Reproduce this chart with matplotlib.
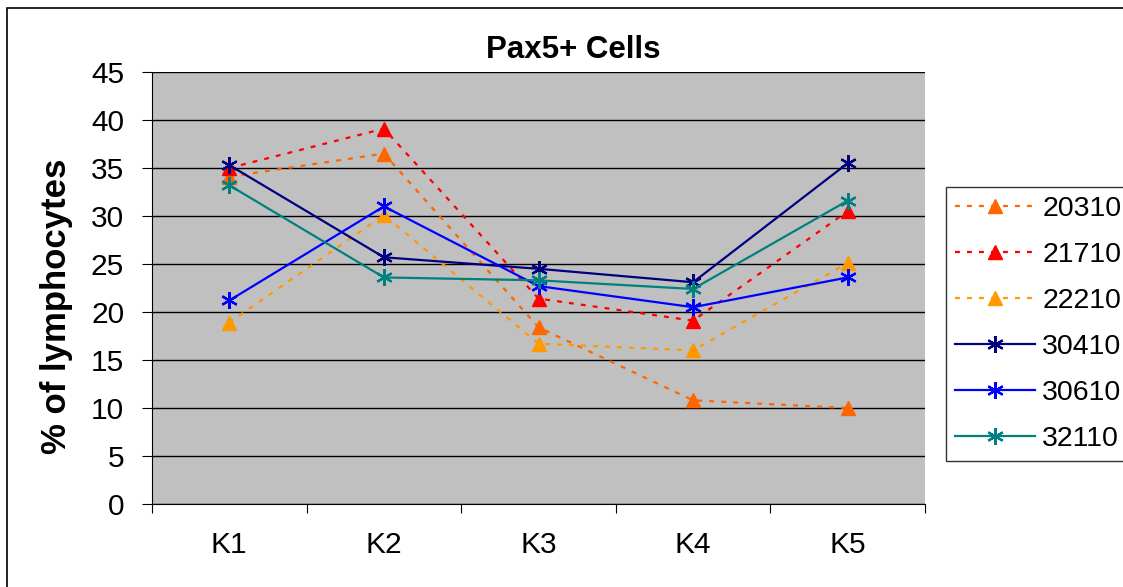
import matplotlib
matplotlib.use("Agg")
import matplotlib.pyplot as plt
from matplotlib.patches import Rectangle

plt.rcParams['font.family'] = ['Liberation Sans', 'DejaVu Sans']

categories = ["K1", "K2", "K3", "K4", "K5"]
s20310 = [34.1, 36.5, 18.4, 10.8, 10.0]
s21710 = [35.0, 39.1, 21.4, 19.1, 30.5]
s22210 = [18.9, 30.1, 16.7, 16.0, 25.1]
s30410 = [35.3, 25.7, 24.5, 23.1, 35.5]
s30610 = [21.2, 31.0, 22.7, 20.5, 23.6]
s32110 = [33.2, 23.6, 23.3, 22.4, 31.6]
yticks = [0, 5, 10, 15, 20, 25, 30, 35, 40, 45]

W, H = 1123, 587
fig = plt.figure(figsize=(W / 100, H / 100), dpi=100)
fig.patch.set_facecolor('white')
fig.add_artist(Rectangle((7 / W, -0.1), 1.2, (H - 8) / H + 0.1, transform=fig.transFigure,
                         fill=False, edgecolor='black', linewidth=1.2))

ax = fig.add_axes([152 / W, 1 - 504 / H, (925 - 152) / W, (504 - 72) / H])
ax.set_facecolor('#C0C0C0')
x = list(range(len(categories)))

dash = (0, (2.2, 3.2))
ast = (6, 2, 0)
ax.plot(x, s20310, color='#FF6600', linestyle=dash, lw=1.6, marker='^', ms=10, label='20310', zorder=3)
ax.plot(x, s21710, color='#FF0000', linestyle=dash, lw=1.6, marker='^', ms=10, label='21710', zorder=3)
ax.plot(x, s22210, color='#FF9900', linestyle=dash, lw=1.6, marker='^', ms=10, label='22210', zorder=3)
ax.plot(x, s30410, color='#000080', linestyle='-', lw=1.6, marker=ast, ms=12, mew=1.6, label='30410', zorder=3)
ax.plot(x, s30610, color='#0000FF', linestyle='-', lw=1.6, marker=ast, ms=12, mew=1.6, label='30610', zorder=3)
ax.plot(x, s32110, color='#008080', linestyle='-', lw=1.6, marker=ast, ms=12, mew=1.6, label='32110', zorder=3)

ax.set_xlim(-0.5, 4.5)
ax.set_ylim(0, 45)
ax.set_yticks(yticks)
ax.yaxis.grid(True, color='black', lw=1.0)
ax.set_axisbelow(True)
ax.set_xticks([i - 0.5 for i in range(len(categories) + 1)])
ax.set_xticklabels([])
ax.set_xticks(x, minor=True)
ax.set_xticklabels(categories, minor=True)
ax.tick_params(axis='x', which='minor', length=0, pad=19.5, labelsize=21.5)
ax.tick_params(axis='x', which='major', length=6.5, direction='out', color='black')
ax.tick_params(axis='y', length=7, direction='out', labelsize=21.5, pad=13)
for side in ['top', 'right']:
    ax.spines[side].set_visible(False)
ax.spines['left'].set_color('black')
ax.spines['bottom'].set_color('black')

fig.text(573 / W, 1 - 58 / H, 'Pax5+ Cells', fontsize=22.5, fontweight='bold',
         ha='center', va='baseline')
fig.text(57 / W, 1 - 306 / H, '% of lymphocytes', fontsize=25, fontweight='bold',
         rotation=90, ha='center', va='center')

leg = fig.legend(loc='upper left', bbox_to_anchor=(946 / W, 1 - 187 / H), fontsize=20.5,
                 frameon=True, fancybox=False, edgecolor='black', borderpad=0.33,
                 labelspacing=0.7, handlelength=2.8, handletextpad=0.25, borderaxespad=0)
leg.get_frame().set_linewidth(1.0)

fig.savefig('out.png', dpi=100)
